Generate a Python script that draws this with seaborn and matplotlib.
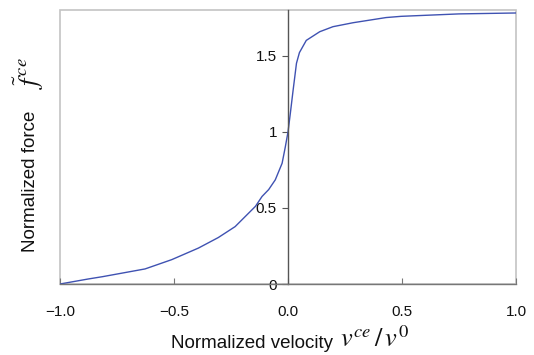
import matplotlib
matplotlib.use('Agg')

import pandas as pd
import numpy as np
import matplotlib.pyplot as plt
import seaborn as sns

sns.set_theme(style="white")
plt.rcParams['font.family'] = ['Liberation Sans', 'DejaVu Sans']
plt.rcParams['mathtext.fontset'] = 'stix'

# force-velocity curve
velocity = [-1.0, -0.876, -0.814, -0.627, -0.51, -0.393, -0.306, -0.232, -0.143,
            -0.114, -0.085, -0.056, -0.026, -0.012, 0.0, 0.010, 0.022, 0.037,
            0.05, 0.08, 0.139, 0.197, 0.285, 0.43, 0.496, 0.75, 1.0]
force = [0.0, 0.033, 0.048, 0.099, 0.16, 0.236, 0.305, 0.377, 0.51,
         0.575, 0.62, 0.684, 0.793, 0.90, 1.0, 1.12, 1.27, 1.45,
         1.52, 1.60, 1.657, 1.69, 1.716, 1.75, 1.758, 1.774, 1.78]
x_ticks = [-1.0, -0.5, 0.0, 0.5, 1.0]
x_labels = ['\u22121.0', '\u22120.5', '0.0', '0.5', '1.0']
y_ticks = [0, 0.5, 1, 1.5]
y_labels = ['0', '0.5', '1', '1.5']

df = pd.DataFrame({'v': velocity, 'f': force})

fig = plt.figure(figsize=(5.34, 3.55), dpi=100)
ax = fig.add_axes([0.1124, 0.2, 0.854, 0.772])

sns.lineplot(data=df, x='v', y='f', ax=ax, color='#3f52b2', linewidth=1.0)

ax.set_xlim(-1.0, 1.0)
ax.set_ylim(0, 1.80)

# light frame around the plot, y axis sits at v = 0
ax.patch.set_edgecolor('#c4c4c4')
ax.patch.set_linewidth(1.2)
ax.spines['top'].set_visible(False)
ax.spines['right'].set_visible(False)
ax.spines['left'].set_position(('data', 0))
ax.spines['left'].set_color('#555555')
ax.spines['left'].set_linewidth(1.0)
ax.spines['bottom'].set_color('#777777')
ax.spines['bottom'].set_linewidth(1.0)

ax.set_xticks(x_ticks)
ax.set_xticklabels(x_labels)
ax.set_yticks(y_ticks)
ax.set_yticklabels(y_labels)
ax.tick_params(axis='x', direction='in', length=4, width=0.8, color='#777777',
               pad=15, labelsize=11, labelcolor='#111111', bottom=True)
ax.tick_params(axis='y', direction='out', length=4, width=0.8, color='#555555',
               pad=4, labelsize=11, labelcolor='#111111', left=True)

# axis titles: words plus larger serif math symbol
ax.set_xlabel('Normalized velocity', fontsize=13.5, color='#111111')
ax.xaxis.set_label_coords(0.420, -0.186)
fig.text(0.637, 0.022, '$v^{ce}\\,/\\,v^{0}$', fontsize=19, color='#111111',
         ha='left', va='baseline')

ax.set_ylabel('Normalized force', fontsize=13.5, color='#111111')
ax.yaxis.set_label_coords(-0.045, 0.375)
fig.text(0.054, 0.795, '$\\tilde{f}^{\\,ce}$', fontsize=19, color='#111111',
         ha='center', va='center', rotation=90)

fig.savefig('out.png', dpi=100)
